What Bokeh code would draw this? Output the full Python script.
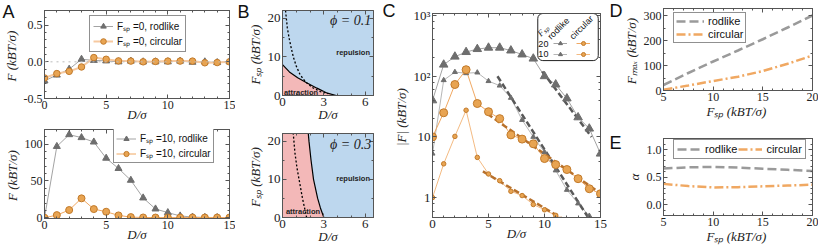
from bokeh.plotting import figure
from bokeh.layouts import row, column
from bokeh.models import (Range1d, LinearAxis, Legend, LegendItem, Label, Span,
                          SingleIntervalTicker, LogTicker, CustomJSTickFormatter,
                          PrintfTickFormatter, BoxAnnotation)
from bokeh.embed import file_html
from bokeh.resources import INLINE

# ---------------- data ----------------
D_sep = [0, 1, 2, 3, 4, 5, 6, 7, 8, 9, 10, 11, 12, 13, 14, 15]

# Panel A, F_sp = 0
A0_rodlike = [-0.26, -0.18, -0.10, 0.035, 0.02, 0.013, 0.0, 0.01, 0.0, 0.0, 0.0, 0.01, -0.005, 0.0, -0.01, 0.0]
A0_circular = [-0.22, -0.16, -0.13, -0.07, 0.058, 0.035, 0.013, 0.01, 0.0, 0.005, 0.01, 0.01, 0.01, -0.013, -0.01, 0.0]
# Panel A, F_sp = 10
A10_rodlike = [0, 97, 113, 109, 103, 81, 67, 51, 27, 12, 7, 2.5, 1, 0.5, 0.3, 0.2]
A10_circular = [0, 3.6, 10.5, 26.4, 11.8, 8.2, 3.2, 0.9, 0.4, 0.3, 0.3, 0.3, 0.3, 0.3, 0.3, 0.3]

# Panel B, phi = 0.1 (boundary F_sp(D) and dotted curve)
B1_bound_D = [0, 0.5, 1.1, 1.75, 2.5, 3.25, 3.9]
B1_bound_F = [8, 6.1, 4.6, 3.3, 1.9, 0.6, 0]
B1_dot_D = [0.22, 0.35, 0.5, 0.65, 0.8, 1.0, 1.25, 1.5, 1.75, 2.2, 2.75, 3.3]
B1_dot_F = [22, 17.5, 14.5, 12, 9.8, 7.6, 5.6, 4.3, 3.3, 2.0, 1.0, 0.5]
# Panel B, phi = 0.3
B3_bound_F = [0, 2.5, 5, 10, 15, 20, 22]
B3_bound_D = [3.0, 2.75, 2.55, 2.25, 2.07, 1.92, 1.87]
B3_dot_F = [0, 5, 9, 13, 17, 22]
B3_dot_D = [1.75, 1.45, 1.25, 1.05, 0.9, 0.78]

# Panel C, |F|
C20_rodlike = [40, 155, 210, 250, 280, 295, 295, 265, 228, 195, 100, 73, 43, 21, 13.7, 5.3]
C10_rodlike = [5.3, 86, 117, 112, 115, 83, 70, 44, 19, 10, 5.6, 2.8, 1.34, 0.8, 0.5, 0.3]
C20_circular = [10, 25, 73, 128, 35.5, 26, 20, 10.8, 9.2, 7.7, 4.4, 3.5, 2.9, 2.05, 1.4, 1.16]
C10_circular = [1.0, 3.6, 10.2, 27.5, 4.6, 2.45, 1.9, 1.27, 1.08, 0.77, 0.63, 0.51, 0.42, 0.35, 0.3, 0.25]
fit_rod20_D = [9.8, 14.2]
fit_rod20_F = [120, 10]
fit_rod10_D = [5.8, 13.9]
fit_rod10_F = [100, 0.47]
fit_circ20_D = [4.9, 15.0]
fit_circ20_F = [24, 1.17]
fit_circ10_D = [4.5, 11.5]
fit_circ10_F = [2.7, 0.46]

# Panel D, E
Fsp = [5, 7.5, 10, 12.5, 15, 17.5, 20]
Fmax_rodlike = [22, 70, 116, 160, 205, 252, 300]
Fmax_circular = [3, 20, 38, 55, 78, 107, 140]
alpha_rodlike = [0.655, 0.675, 0.684, 0.672, 0.65, 0.63, 0.61]
alpha_circular = [0.375, 0.335, 0.31, 0.315, 0.33, 0.345, 0.36]

# ---------------- style ----------------
SERIF = "Liberation Serif"
SANS = "Liberation Sans"
AX = "#555555"
GRAY_LINE = "#a3a3a3"
GRAY_MK = "#6e6e6e"
OR_LINE = "#f0a862"
OR_LIGHT = "#f6c9a0"
OR_FILL = "#e8a452"
OR_EDGE = "#c27a2a"
BLUE = "#bdd7ee"
PINK = "#f3b8b8"
FIT_GRAY = "#595959"
FIT_OR = "#b8712c"


def make_fig(w, h, xr, yr, bl, br, bt, bb, log_y=False, bg="white"):
    p = figure(width=w, height=h, x_range=Range1d(*xr), y_range=Range1d(*yr),
               y_axis_type="log" if log_y else "linear",
               output_backend="svg", toolbar_location=None,
               min_border_left=bl, min_border_right=br,
               min_border_top=bt, min_border_bottom=bb)
    p.xgrid.visible = False
    p.ygrid.visible = False
    p.outline_line_color = AX
    p.background_fill_color = bg
    p.border_fill_color = "white"
    return p


def style_axis(ax, fs, label=None, stand=0):
    ax.major_tick_in = 4
    ax.major_tick_out = 0
    ax.minor_tick_in = 2
    ax.minor_tick_out = 0
    ax.axis_line_color = AX
    ax.major_tick_line_color = AX
    ax.minor_tick_line_color = AX
    ax.major_label_text_font = SERIF
    ax.major_label_text_font_size = fs
    ax.major_label_text_color = "#222222"
    ax.major_label_standoff = 2
    if label is not None:
        ax.axis_label = label
        ax.axis_label_text_font = SERIF
        ax.axis_label_text_font_size = "13px"
        ax.axis_label_text_font_style = "italic"
        ax.axis_label_text_color = "#222222"
        ax.axis_label_standoff = stand


def setup_axes(p, xt, yt, fs, xl, yl, xstand, xfmt=None, yfmt=None):
    xa = p.xaxis[0]
    ya = p.yaxis[0]
    xa.ticker = xt
    ya.ticker = yt
    if xfmt is not None:
        xa.formatter = xfmt
    if yfmt is not None:
        ya.formatter = yfmt
    style_axis(xa, fs, xl, xstand)
    style_axis(ya, fs, yl, 2)
    for loc, tk in (("above", xt), ("right", yt)):
        ax = LinearAxis(ticker=tk, formatter=CustomJSTickFormatter(code="return ''"))
        style_axis(ax, "1px")
        ax.major_label_standoff = 0
        p.add_layout(ax, loc)


def letter(p, txt, offset, standoff):
    # panel letter as the figure title, pulled into the top-left corner
    p.title.text = txt
    p.title.align = "left"
    p.title.vertical_align = "bottom"
    p.title.offset = offset
    p.title.standoff = standoff
    p.title.text_font = SANS
    p.title.text_font_size = "18px"
    p.title.text_font_style = "normal"
    p.title.text_color = "#111111"


def style_legend(leg, fs="10px", gw=20, gh=14, pad=3):
    leg.label_text_font = SANS
    leg.label_text_font_size = fs
    leg.label_text_color = "#111111"
    leg.border_line_color = "#222222"
    leg.border_line_width = 1
    leg.background_fill_color = "white"
    leg.background_fill_alpha = 1
    leg.padding = pad
    leg.spacing = 1
    leg.margin = 0
    leg.glyph_width = gw
    leg.glyph_height = gh
    leg.label_height = gh
    leg.label_standoff = 4


YL = "(kBT/σ)"

# ---------------- Panel A ----------------
pA1 = make_fig(235, 124, (0, 15), (-0.5, 0.7), 43, 6, 10, 26)
setup_axes(pA1, SingleIntervalTicker(interval=5, num_minor_ticks=5),
           SingleIntervalTicker(interval=0.5, num_minor_ticks=5), "12px",
           "D/σ", "F  " + YL, -5, yfmt=PrintfTickFormatter(format="%.1f"))
pA1.add_layout(Span(location=0, dimension="width", line_color="#bbbbbb",
                    line_dash="dotted", line_width=1))
a_rl = pA1.line(D_sep, A0_rodlike, line_color=GRAY_LINE, line_width=1)
a_rs = pA1.scatter(D_sep, A0_rodlike, marker="triangle", size=7,
                   fill_color=GRAY_MK, line_color=GRAY_MK)
a_cl = pA1.line(D_sep, A0_circular, line_color=OR_LIGHT, line_width=2)
a_cs = pA1.scatter(D_sep, A0_circular, marker="circle", size=6.5,
                   fill_color=OR_FILL, line_color=OR_EDGE)
legA1 = Legend(items=[LegendItem(label="Fₛₚ =0, rodlike", renderers=[a_rl, a_rs]),
                      LegendItem(label="Fₛₚ =0, circular", renderers=[a_cl, a_cs])],
               location=(45, 46))
style_legend(legA1)
pA1.add_layout(legA1)
letter(pA1, "A", -42, -22)

pA2 = make_fig(235, 122, (0, 15), (-1, 120), 43, 6, 5, 28)
setup_axes(pA2, SingleIntervalTicker(interval=5, num_minor_ticks=5),
           SingleIntervalTicker(interval=50, num_minor_ticks=5), "12px",
           "D/σ", "F  " + YL, -5)
b_rl = pA2.line(D_sep, A10_rodlike, line_color=GRAY_LINE, line_width=1)
b_rs = pA2.scatter(D_sep, A10_rodlike, marker="triangle", size=7,
                   fill_color=GRAY_MK, line_color=GRAY_MK)
b_cl = pA2.line(D_sep, A10_circular, line_color=OR_LINE, line_width=1)
b_cs = pA2.scatter(D_sep, A10_circular, marker="circle", size=7,
                   fill_color=OR_FILL, line_color=OR_EDGE)
legA2 = Legend(items=[LegendItem(label="Fₛₚ =10, rodlike", renderers=[b_rl, b_rs]),
                      LegendItem(label="Fₛₚ =10, circular", renderers=[b_cl, b_cs])],
               location=(69, 55))
style_legend(legA2, gh=13, pad=2)
pA2.add_layout(legA2)

# ---------------- Panel B ----------------
def phase_labels(p, phi_txt, py, rep_y, att_x, att_y):
    p.add_layout(Label(x=3.45, y=py, text=phi_txt, text_font=SERIF, text_font_size="14px",
                       text_font_style="italic", text_baseline="middle", text_color="#222222"))
    p.add_layout(Label(x=3.9, y=rep_y, text="repulsion", text_font=SANS,
                       text_font_size="7.5px", text_font_style="bold",
                       text_baseline="middle", text_color="#222222"))
    p.add_layout(Label(x=att_x, y=att_y, text="attraction", text_font=SANS,
                       text_font_size="7.5px", text_font_style="bold",
                       text_baseline="middle", text_color="#222222"))


pB1 = make_fig(143, 124, (0, 6.6), (0, 22), 47, 5, 10, 29, bg=BLUE)
setup_axes(pB1, SingleIntervalTicker(interval=3, num_minor_ticks=3),
           SingleIntervalTicker(interval=10, num_minor_ticks=2), "13px",
           "D/σ", "Fₛₚ  " + YL, -2)
pB1.varea(x=B1_bound_D, y1=0, y2=B1_bound_F, fill_color=PINK)
pB1.line(B1_bound_D, B1_bound_F, line_color="black", line_width=1.2)
pB1.line(B1_dot_D, B1_dot_F, line_color="black", line_width=1.3, line_dash="2 2")
phase_labels(pB1, "ϕ = 0.1", 19.4, 11.2, 0.1, 0.9)
letter(pB1, "B", -45, -22)

pB2 = make_fig(143, 122, (0, 6.6), (0, 22), 47, 5, 9, 29, bg=BLUE)
setup_axes(pB2, SingleIntervalTicker(interval=3, num_minor_ticks=3),
           SingleIntervalTicker(interval=10, num_minor_ticks=2), "13px",
           "D/σ", "Fₛₚ  " + YL, -2)
pB2.harea(y=B3_bound_F, x1=0, x2=B3_bound_D, fill_color=PINK)
pB2.line(B3_bound_D, B3_bound_F, line_color="black", line_width=1.2)
pB2.line(B3_dot_D, B3_dot_F, line_color="black", line_width=1.3, line_dash="2 2")
phase_labels(pB2, "ϕ = 0.3", 19.0, 10.2, 0.25, 1.7)

# ---------------- Panel C ----------------
pC = make_fig(230, 246, (0, 15), (0.47, 1080), 54, 8, 13, 29, log_y=True)
c_fmt = CustomJSTickFormatter(code="""
const m = {1: '1', 10: '10', 100: '10\u00b2', 1000: '10\u00b3'};
const k = Math.round(tick);
return (k in m) ? m[k] : tick.toString();
""")
setup_axes(pC, SingleIntervalTicker(interval=5, num_minor_ticks=5), LogTicker(), "13px",
           "D/σ", "|F|  " + YL, -5, yfmt=c_fmt)
c1l = pC.line(D_sep, C20_rodlike, line_color=GRAY_LINE, line_width=1)
c2l = pC.line(D_sep, C10_rodlike, line_color=GRAY_LINE, line_width=0.8)
c3l = pC.line(D_sep, C20_circular, line_color=OR_LINE, line_width=1)
c4l = pC.line(D_sep, C10_circular, line_color=OR_LINE, line_width=0.8)
pC.line(fit_rod20_D, fit_rod20_F, line_color=FIT_GRAY, line_width=2.5, line_dash="6 3")
pC.line(fit_rod10_D, fit_rod10_F, line_color=FIT_GRAY, line_width=2.5, line_dash="6 3")
pC.line(fit_circ20_D, fit_circ20_F, line_color=FIT_OR, line_width=2.5, line_dash="6 3")
pC.line(fit_circ10_D, fit_circ10_F, line_color=FIT_OR, line_width=2.5, line_dash="6 3")
c1s = pC.scatter(D_sep, C20_rodlike, marker="triangle", size=8.5, fill_color=GRAY_MK, line_color=GRAY_MK)
c2s = pC.scatter(D_sep, C10_rodlike, marker="triangle", size=5, fill_color=GRAY_MK, line_color=GRAY_MK)
c3s = pC.scatter(D_sep, C20_circular, marker="circle", size=8, fill_color=OR_FILL, line_color=OR_EDGE)
c4s = pC.scatter(D_sep, C10_circular, marker="circle", size=4.5, fill_color=OR_FILL, line_color=OR_EDGE)
pC.add_layout(BoxAnnotation(left=9.4, right=14.8, top=1080, bottom=181,
                            fill_color="white", fill_alpha=1, line_color="#222222",
                            line_width=1, line_alpha=1, border_radius=5))
legC = Legend(items=[LegendItem(label=" ", renderers=[c1l, c1s]),
                     LegendItem(label=" ", renderers=[c2l, c2s]),
                     LegendItem(label=" ", renderers=[c3l, c3s]),
                     LegendItem(label=" ", renderers=[c4l, c4s])],
              location=(121, 158), ncols=2)
legC.padding = 0
legC.margin = 0
legC.spacing = 1
legC.glyph_width = 14
legC.glyph_height = 10
legC.label_width = 7
legC.label_height = 10
legC.label_standoff = 1
legC.label_text_font_size = "6px"
legC.border_line_alpha = 0
legC.background_fill_alpha = 0
pC.add_layout(legC)
for txt, x, y, fnt, st in (("Fₛₚ", 9.9, 566, SERIF, "italic"), ("rodlike", 11.25, 611, SANS, "normal"),
                           ("circular", 13.3, 634, SANS, "normal")):
    pC.add_layout(Label(x=x, y=y, text=txt, angle=45, angle_units="deg", text_font=fnt,
                        text_font_style=st, text_font_size="9px", text_align="center",
                        text_baseline="middle", text_color="#111111"))
for txt, y in (("20", 346), ("10", 228)):
    pC.add_layout(Label(x=9.9, y=y, text=txt, text_font=SANS, text_font_size="9px",
                        text_align="center", text_baseline="middle", text_color="#111111"))
letter(pC, "C", -50, -15)

# ---------------- Panel D ----------------
pD = make_fig(210, 124, (5, 20), (0, 328), 55, 6, 8, 34)
setup_axes(pD, SingleIntervalTicker(interval=5, num_minor_ticks=5),
           SingleIntervalTicker(interval=100, num_minor_ticks=2), "12px",
           "Fₛₚ  " + YL, "Fₘₐₓ  " + YL, 0)
d_r = pD.line(Fsp, Fmax_rodlike, line_color="#9a9a9a", line_width=2.5, line_dash="9 4")
d_c = pD.line(Fsp, Fmax_circular, line_color=OR_LINE, line_width=2.5, line_dash="9 3 2 3")
legD = Legend(items=[LegendItem(label="rodlike", renderers=[d_r]),
                     LegendItem(label="circular", renderers=[d_c])],
              location=(10, 47))
style_legend(legD, fs="11px", gw=28, gh=12, pad=2)
pD.add_layout(legD)
letter(pD, "D", -54, -24)

# ---------------- Panel E ----------------
pE = make_fig(210, 122, (5, 20), (-0.2, 1.2), 55, 6, 14, 31)
setup_axes(pE, SingleIntervalTicker(interval=5, num_minor_ticks=5),
           SingleIntervalTicker(interval=0.5, num_minor_ticks=5), "12px",
           "Fₛₚ  " + YL, "α", 0, yfmt=PrintfTickFormatter(format="%.1f"))
e_r = pE.line(Fsp, alpha_rodlike, line_color="#9a9a9a", line_width=2.5, line_dash="9 4")
e_c = pE.line(Fsp, alpha_circular, line_color=OR_LINE, line_width=2.5, line_dash="9 3 2 3")
legE = Legend(items=[LegendItem(label="rodlike", renderers=[e_r]),
                     LegendItem(label="circular", renderers=[e_c])],
              location=(10, 56), orientation="horizontal")
style_legend(legE, fs="11px", gw=24, gh=12, pad=3)
pE.add_layout(legE)
letter(pE, "E", -54, -28)

layout = row(column(pA1, pA2), column(pB1, pB2), pC, column(pD, pE))
open("out.html", "w").write(file_html(layout, INLINE))
